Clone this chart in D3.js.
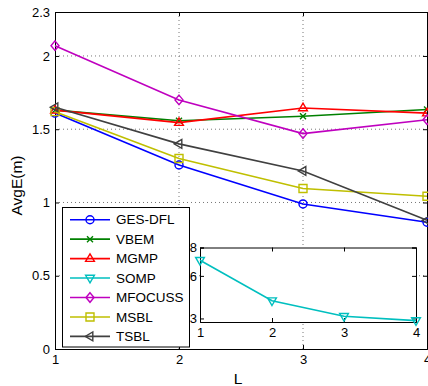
<!DOCTYPE html>
<html>
<head>
<meta charset="utf-8">
<script src="https://cdn.jsdelivr.net/npm/d3@7"></script>
<style>
  body { margin: 0; background: #fff; }
  svg { display: block; font-family: "Liberation Sans", Arial, sans-serif; }
</style>
</head>
<body>
<svg id="chart" width="428" height="386"></svg>
<script>
// values
const Ls = [1, 2, 3, 4];
const gesDfl = [1.61, 1.256, 0.99, 0.865];
const vbem = [1.63, 1.558, 1.588, 1.635];
const mgmp = [1.63, 1.545, 1.645, 1.61];
const mfocuss = [2.07, 1.70, 1.47, 1.565];
const msbl = [1.62, 1.30, 1.095, 1.042];
const tsbl = [1.65, 1.40, 1.215, 0.878];
const somp = [7.1, 4.25, 3.15, 2.85];

const yTicks = [0, 0.5, 1, 1.5, 2, 2.3];
const insetYTicks = [3, 6, 8];

const series = [
  { name: "GES-DFL", vals: gesDfl, col: "#0000ff", mk: "circle" },
  { name: "VBEM", vals: vbem, col: "#008000", mk: "x" },
  { name: "MGMP", vals: mgmp, col: "#ff0000", mk: "up" },
  { name: "SOMP", vals: null, col: "#00bfbf", mk: "down" },
  { name: "MFOCUSS", vals: mfocuss, col: "#bf00bf", mk: "diamond" },
  { name: "MSBL", vals: msbl, col: "#bfbf00", mk: "square" },
  { name: "TSBL", vals: tsbl, col: "#404040", mk: "left" }
];

const svg = d3.select("#chart");
const pL = 55, pR = 427, pT = 12, pB = 349;

const x = d3.scaleLinear().domain([1, 4]).range([pL, pR]);
const y = d3.scaleLinear().domain([0, 2.3]).range([pB, pT]);

const markerPath = (type, r) => {
  switch (type) {
    case "circle": return `M${r},0A${r},${r} 0 1,1 ${-r},0A${r},${r} 0 1,1 ${r},0Z`;
    case "x": { const s = r * 0.75; return `M${-s},${-s}L${s},${s}M${-s},${s}L${s},${-s}`; }
    case "up": return `M0,${-r * 1.2}L${r * 1.1},${r * 0.7}L${-r * 1.1},${r * 0.7}Z`;
    case "down": return `M0,${r * 1.2}L${r * 1.1},${-r * 0.7}L${-r * 1.1},${-r * 0.7}Z`;
    case "left": return `M${-r * 1.2},0L${r * 0.7},${r * 1.1}L${r * 0.7},${-r * 1.1}Z`;
    case "diamond": return `M0,${-r * 1.2}L${r},0L0,${r * 1.2}L${-r},0Z`;
    case "square": return `M${-r},${-r}H${r}V${r}H${-r}Z`;
  }
};

// grid
const g = svg.append("g");
g.selectAll(".gx").data([2, 3]).enter().append("line")
  .attr("x1", d => x(d)).attr("x2", d => x(d)).attr("y1", pT).attr("y2", pB)
  .attr("stroke", "#777").attr("stroke-width", 1).attr("stroke-dasharray", "1,3");
g.selectAll(".gy").data([0.5, 1, 1.5, 2]).enter().append("line")
  .attr("x1", pL).attr("x2", pR).attr("y1", d => y(d)).attr("y2", d => y(d))
  .attr("stroke", "#777").attr("stroke-width", 1).attr("stroke-dasharray", "1,3");

// axes
const tl = 4;
svg.append("g").attr("transform", `translate(0,${pB})`)
  .call(d3.axisBottom(x).tickValues(Ls).tickSize(-tl).tickPadding(6).tickFormat(d3.format("d")));
svg.append("g").attr("transform", `translate(0,${pT})`)
  .call(d3.axisTop(x).tickValues(Ls).tickSize(-tl).tickFormat(""));
svg.append("g").attr("transform", `translate(${pL},0)`)
  .call(d3.axisLeft(y).tickValues(yTicks).tickSize(-tl).tickPadding(5).tickFormat(d => d3.format("")(d)));
svg.append("g").attr("transform", `translate(${pR},0)`)
  .call(d3.axisRight(y).tickValues(yTicks).tickSize(-tl).tickFormat(""));
svg.selectAll(".domain").attr("stroke", "#000");
svg.selectAll(".tick text").attr("font-size", 13).attr("fill", "#000")
  .attr("font-family", "Liberation Sans, Arial, sans-serif");
svg.selectAll(".tick line").attr("stroke", "#000");

svg.append("text").attr("x", 238).attr("y", 384).attr("text-anchor", "middle")
  .attr("font-size", 15.5).text("L");
svg.append("text").attr("transform", "translate(21.5,185.5) rotate(-90)")
  .attr("text-anchor", "middle").attr("font-size", 15.5).text("AvgE(m)");

// lines
series.filter(s => s.vals).forEach(s => {
  const pts = s.vals.map((v, i) => [x(Ls[i]), y(v)]);
  svg.append("path").attr("d", d3.line()(pts)).attr("fill", "none")
    .attr("stroke", s.col).attr("stroke-width", 1.6);
  svg.selectAll(null).data(pts).enter().append("path")
    .attr("transform", d => `translate(${d[0]},${d[1]})`)
    .attr("d", markerPath(s.mk, 4)).attr("fill", "none")
    .attr("stroke", s.col).attr("stroke-width", 1.4);
});

// legend
const lg = svg.append("g");
lg.append("rect").attr("x", 62.5).attr("y", 207.5).attr("width", 127).attr("height", 139.5)
  .attr("fill", "#fff").attr("stroke", "#000").attr("stroke-width", 1);
series.forEach((s, i) => {
  const yy = 219.7 + i * 19.45;
  lg.append("line").attr("x1", 70).attr("x2", 110).attr("y1", yy).attr("y2", yy)
    .attr("stroke", s.col).attr("stroke-width", 1.6);
  lg.append("path").attr("transform", `translate(90,${yy})`).attr("d", markerPath(s.mk, 4))
    .attr("fill", "none").attr("stroke", s.col).attr("stroke-width", 1.4);
  lg.append("text").attr("x", 116).attr("y", yy + 4.7).attr("font-size", 13.5).text(s.name);
});

// inset
const iL = 200, iR = 416, iT = 247.5, iB = 322;
const ix = d3.scaleLinear().domain([1, 4]).range([iL, iR]);
const iy = d3.scaleLinear().domain([2.75, 8]).range([iB, iT]);
const ig = svg.append("g");
ig.append("rect").attr("x", iL).attr("y", iT).attr("width", iR - iL).attr("height", iB - iT)
  .attr("fill", "#fff");
ig.append("g").attr("transform", `translate(0,${iB})`)
  .call(d3.axisBottom(ix).tickValues(Ls).tickSize(-tl).tickPadding(6).tickFormat(d3.format("d")));
ig.append("g").attr("transform", `translate(0,${iT})`)
  .call(d3.axisTop(ix).tickValues(Ls).tickSize(-tl).tickFormat(""));
ig.append("g").attr("transform", `translate(${iL},0)`)
  .call(d3.axisLeft(iy).tickValues(insetYTicks).tickSize(-tl).tickPadding(3).tickFormat(d3.format("d")));
ig.append("g").attr("transform", `translate(${iR},0)`)
  .call(d3.axisRight(iy).tickValues(insetYTicks).tickSize(-tl).tickFormat(""));
ig.selectAll(".domain").attr("stroke", "#000");
ig.selectAll(".tick text").attr("font-size", 13).attr("fill", "#000")
  .attr("font-family", "Liberation Sans, Arial, sans-serif");
ig.selectAll(".tick line").attr("stroke", "#000");
const sp = somp.map((v, i) => [ix(Ls[i]), iy(v)]);
ig.append("path").attr("d", d3.line()(sp)).attr("fill", "none")
  .attr("stroke", "#00bfbf").attr("stroke-width", 1.6);
ig.selectAll(null).data(sp).enter().append("path")
  .attr("transform", d => `translate(${d[0]},${d[1]})`)
  .attr("d", markerPath("down", 4)).attr("fill", "none")
  .attr("stroke", "#00bfbf").attr("stroke-width", 1.4);
</script>
</body>
</html>
